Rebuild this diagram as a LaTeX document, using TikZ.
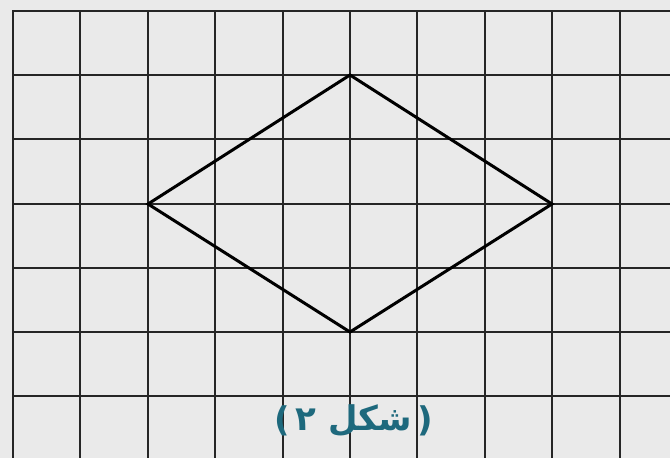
\documentclass[tikz,border=0pt]{standalone}
\usepackage{fontspec}
\TeXXeTstate=1
\newfontfamily\arabicfont[Script=Arabic]{DejaVu Sans}
\newfontfamily\parenfont{DejaVu Sans}
\definecolor{bgpaper}{RGB}{234,234,234}
\definecolor{captionteal}{RGB}{30,105,125}
\begin{document}
\begin{tikzpicture}[x=1pt,y=-1pt,
  gridline/.style={line width=2pt,draw=black!85},
  shapeline/.style={line width=3pt,draw=black,line join=miter},
  captiontext/.style={text=captionteal,font=\arabicfont\bfseries\fontsize{34}{38}\selectfont,inner sep=0pt},
  parentext/.style={text=captionteal,font=\parenfont\bfseries\fontsize{34}{38}\selectfont,inner sep=0pt}]
\fill[bgpaper] (0,0) rectangle (670,458);
\useasboundingbox (0,0) rectangle (670,458);
% grid
\foreach \gx in {13,80,148,215,283,350,417,485,552,620} {
  \draw[gridline] (\gx,11) -- (\gx,458);
}
\foreach \gy in {11,75,139,204,268,332,396} {
  \draw[gridline] (12,\gy) -- (670,\gy);
}
% diamond vertices
\coordinate (T) at (350,75);
\coordinate (L) at (148,204);
\coordinate (R) at (552,204);
\coordinate (B) at (350,332);
\draw[shapeline] (T) -- (R) -- (B) -- (L) -- cycle;
% caption
\node[captiontext] (cap) at (354,421) {\beginR شکل ۲\endR};
\node[parentext,anchor=east] (lp) at ([xshift=-5pt]cap.west) {(};
\node[parentext,anchor=west] (rp) at ([xshift=5pt]cap.east) {)};
\end{tikzpicture}
\end{document}
